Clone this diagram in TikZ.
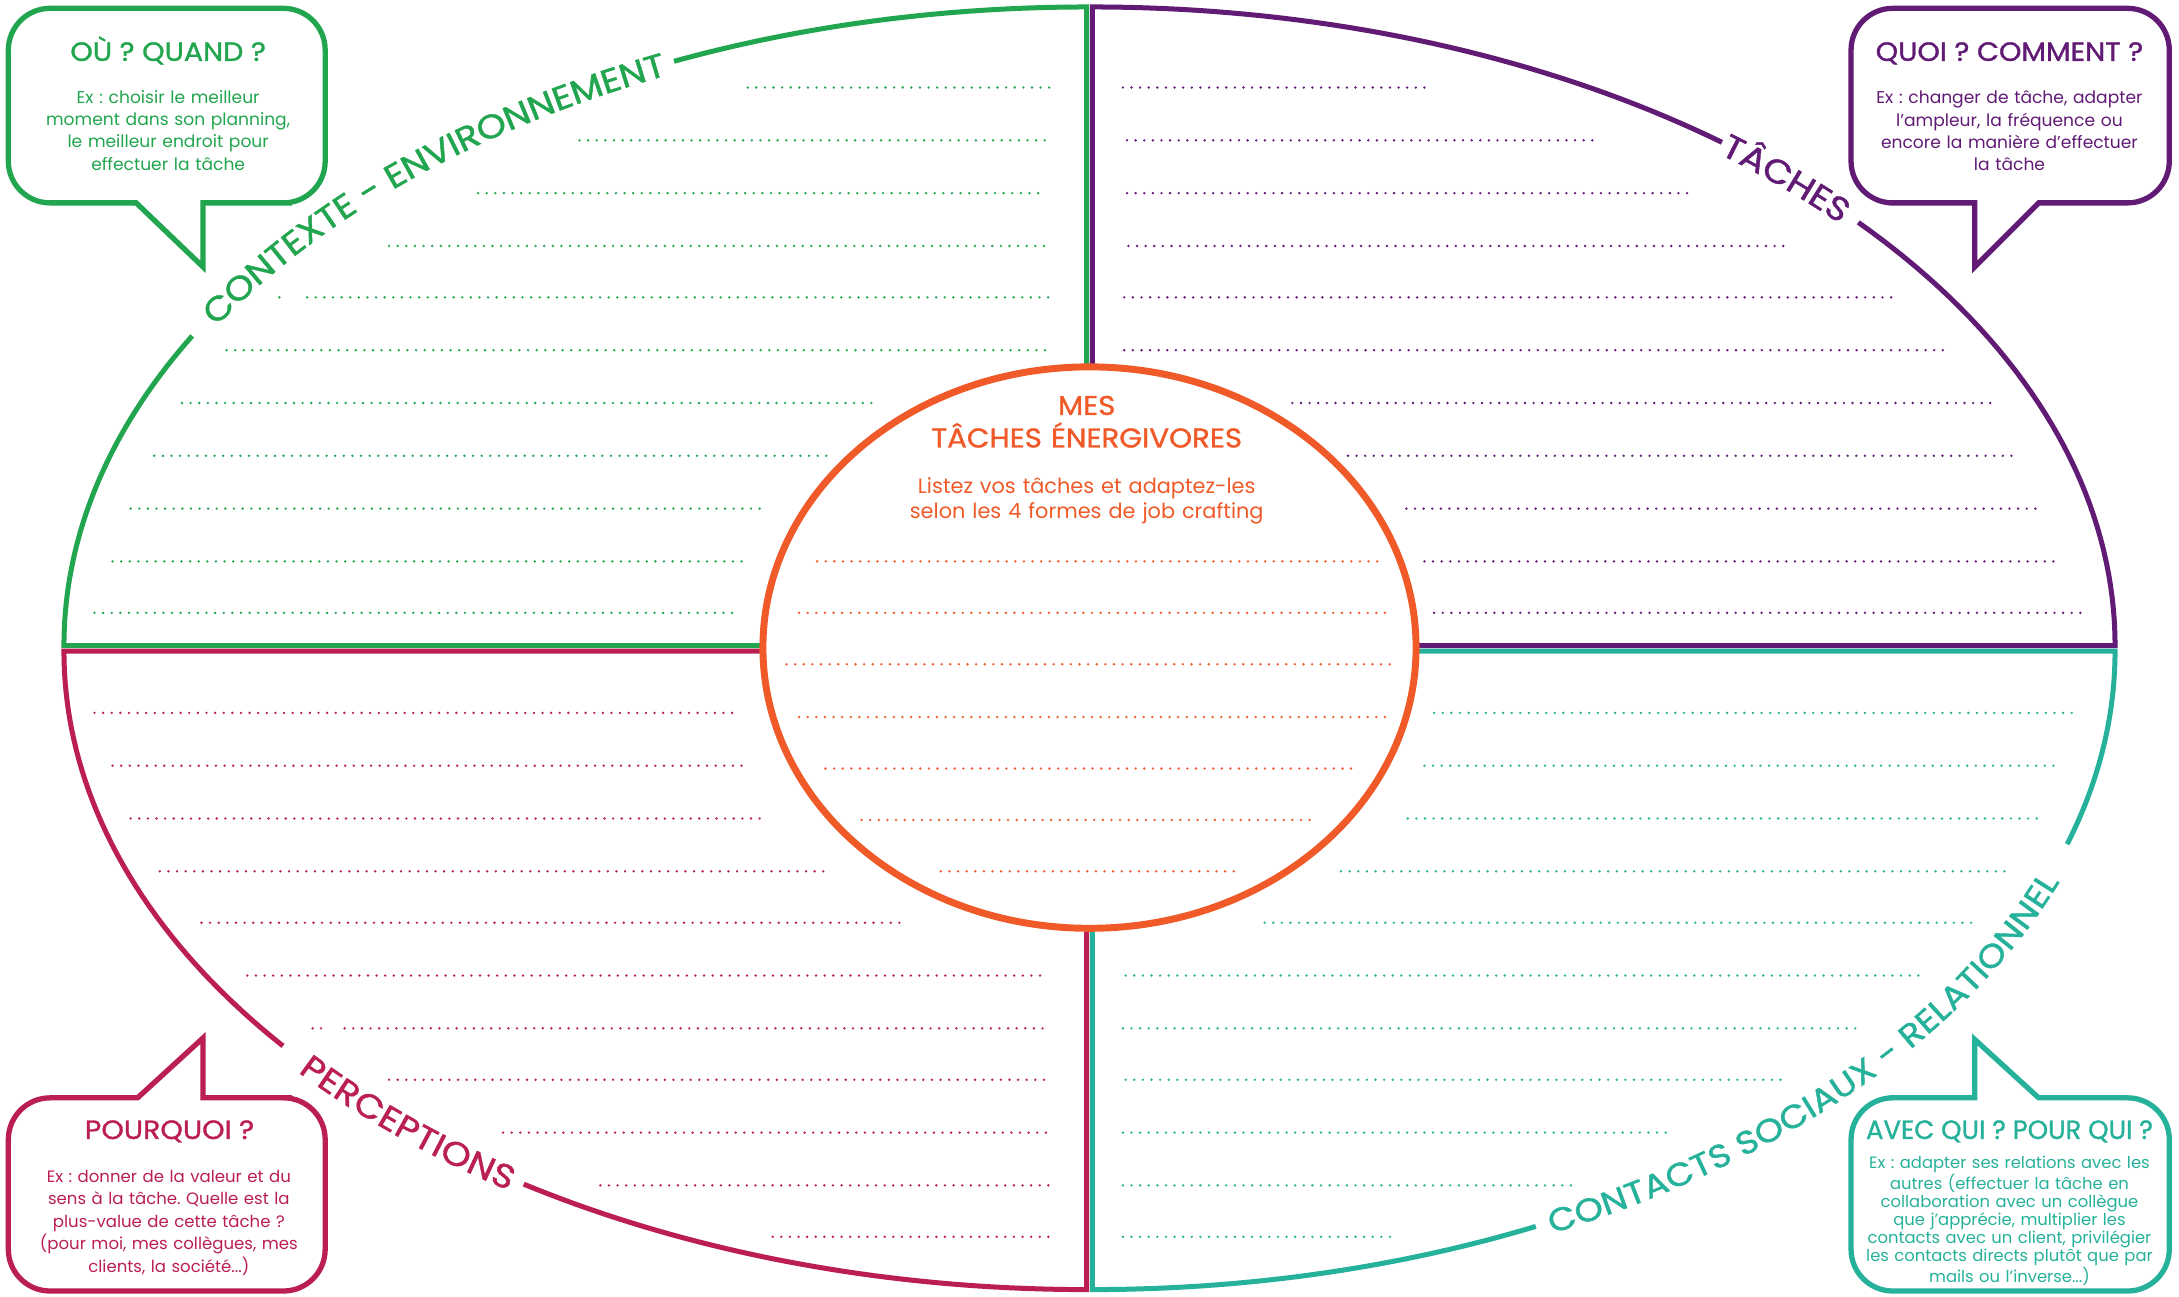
\documentclass[tikz,border=0pt]{standalone}
\usepackage{fontspec}
\setmainfont{Poppins}
\newfontfamily\headfont{Poppins}[FakeBold=1.2,FakeStretch=1.08]
\newfontfamily\headnarrow{Poppins}[FakeBold=1.2,FakeStretch=0.98]
\newfontfamily\labfont{Poppins}[FakeBold=1.3,FakeStretch=1.12]
\frenchspacing
\usetikzlibrary{decorations.text,shapes.geometric}
\definecolor{cgreen}{HTML}{22A54F}
\definecolor{cpurple}{HTML}{611B75}
\definecolor{ccrimson}{HTML}{BA1E52}
\definecolor{cteal}{HTML}{26B19A}
\definecolor{corange}{HTML}{F05A28}
\tikzset{
  quadline/.style={line width=3.6pt, line join=miter},
  dotline/.style={line width=1.9pt, line cap=round, dash pattern=on 0pt off 6.2pt, #1},
  bubble/.style={line width=3.8pt, line join=miter, fill=white, draw=#1},
  headtext/.style={font=\headfont\fontsize{19}{19}\selectfont, inner sep=0pt, anchor=base},
  bodytext/.style={font=\fontsize{12.3}{16}\selectfont, inner sep=0pt, anchor=base, text width=230pt, align=center},
  arclabel/.style n args={3}{decorate, decoration={text along path, text align=center, raise=-0.84pt, text color=#1, text={|\labfont\fontsize{#3}{#3}\selectfont|#2}}},
}
\begin{document}
\begin{tikzpicture}[x=1pt,y=-1pt]
\useasboundingbox (0,0) rectangle (1568,933);
\fill[white] (0,0) rectangle (1568,933);

% quadrants
\draw[quadline, cgreen] plot[domain=113.8:90,samples=40] ({782+736*cos(\x)},{464.5-459.5*sin(\x)}) -- (782,464.5) -- (46,464.5) -- plot[domain=180:151,samples=40] ({782+736*cos(\x)},{464.5-459.5*sin(\x)});
\draw[quadline, cpurple] plot[domain=41.5:0,samples=40] ({786+736*cos(\x)},{464.5-459.5*sin(\x)}) -- (786,464.5) -- plot[domain=90:52,samples=40] ({786+736*cos(\x)},{464.5-459.5*sin(\x)});
\draw[quadline, ccrimson] plot[domain=236.6:270,samples=40] ({782+736*cos(\x)},{468.5-459.5*sin(\x)}) -- (782,468.5) -- (46,468.5) -- plot[domain=180:218.2,samples=40] ({782+736*cos(\x)},{468.5-459.5*sin(\x)});
\draw[quadline, cteal] plot[domain=342.4:360,samples=40] ({786+736*cos(\x)},{468.5-459.5*sin(\x)}) -- (786,468.5) -- (786,928) -- plot[domain=270:295.7,samples=40] ({786+736*cos(\x)},{468.5-459.5*sin(\x)});

% arc labels (drawn at 1/10 scale, enlarged by the canvas transform)
\begin{scope}[x=0.1pt, y=-0.1pt, transform canvas={shift={(782pt,-464.5pt)}, scale=10}]
\path[arclabel={cgreen}{CONTEXTE - ENVIRONNEMENT}{2.4}] plot[domain=155:110,samples=140] ({736*cos(\x)},{-459.5*sin(\x)});
\end{scope}
\begin{scope}[x=0.1pt, y=-0.1pt, transform canvas={shift={(786pt,-464.5pt)}, scale=10}]
\path[arclabel={cpurple}{TÂCHES}{2.4}] plot[domain=58:35.5,samples=90] ({736*cos(\x)},{-459.5*sin(\x)});
\end{scope}
\begin{scope}[x=0.1pt, y=-0.1pt, transform canvas={shift={(782pt,-468.5pt)}, scale=10}]
\path[arclabel={ccrimson}{PERCEPTIONS}{2.4}] plot[domain=212:242.8,samples=90] ({736*cos(\x)},{-459.5*sin(\x)});
\end{scope}
\begin{scope}[x=0.1pt, y=-0.1pt, transform canvas={shift={(786pt,-468.5pt)}, scale=10}]
\path[arclabel={cteal}{CONTACTS SOCIAUX - RELATIONNEL}{2.32}] plot[domain=290.5:348,samples=140] ({736*cos(\x)},{-459.5*sin(\x)});
\end{scope}

% centre
\node[draw=corange, line width=5pt, fill=white, ellipse, minimum width=470pt, minimum height=404pt, inner sep=0pt] (core) at (784,466) {};
\node[font=\headfont\fontsize{19.5}{23.4}\selectfont, text=corange, inner sep=0pt, anchor=base, text width=300pt, align=center] (coreh) at (782,298.6) {MES\\TÂCHES ÉNERGIVORES};
\node[font=\fontsize{15}{18}\selectfont, text=corange, inner sep=0pt, anchor=base, text width=300pt, align=center] (coreb) at (782,355) {Listez vos tâches et adaptez-les\\selon les 4 formes de job crafting};

% dotted lines
\foreach \yy/\xa/\xb in {63/538/755, 101/417/753, 139/344/753, 177/280/753, 214/221/755, 252/163/755, 290/131/630, 328/111/595, 366/94/552, 404/81/538, 441/68/532}
  \draw[dotline=cgreen] (\xa,\yy) -- (\xb,\yy);
\fill[cgreen] (201,214) circle (0.95pt);
\foreach \yy/\xa/\xb in {63/808/1027, 101/811/1147, 139/811/1220, 177/812/1285, 214/809/1364, 252/809/1403, 290/930/1433, 328/970/1452, 366/1012/1470, 404/1025/1483, 441/1032/1497}
  \draw[dotline=cpurple] (\xa,\yy) -- (\xb,\yy);
\foreach \yy/\xa/\xb in {513/1032/1495, 551/1025/1483, 589/1013/1470, 627/965/1448, 664/910/1420, 702/810/1385, 740/808/1338, 777/810/1284, 815/808/1201, 853/808/1131, 890/808/1005}
  \draw[dotline=cteal] (\xa,\yy) -- (\xb,\yy);
\foreach \yy/\xa/\xb in {513/68/531, 551/81/538, 589/94/551, 627/115/598, 664/145/653, 702/178/752, 740/248/755, 777/280/753, 815/362/755, 853/432/755, 890/556/755}
  \draw[dotline=ccrimson] (\xa,\yy) -- (\xb,\yy);
\fill[ccrimson] (225,740) circle (0.95pt) (231,740) circle (0.95pt);
\foreach \yy/\xa/\xb in {404/588/993, 441/575/998, 478/566/1006, 516/575/998, 553/594/973, 590/620/943, 627/677/893}
  \draw[dotline=corange] (\xa,\yy) -- (\xb,\yy);

% callouts
\draw[bubble=cgreen] (146,192) -- (98,146) -- (70,146) [rounded corners=30pt] -- (6,146) -- (6,6) -- (234,6) -- (234,146) -- (180,146) [sharp corners] -- (146,146) -- cycle;
\draw[bubble=cpurple] (1421,192) -- (1467,146) -- (1500,146) [rounded corners=30pt] -- (1561,146) -- (1561,6) -- (1332,6) -- (1332,146) -- (1390,146) [sharp corners] -- (1421,146) -- cycle;
\draw[bubble=ccrimson] (146,747) -- (99,790) -- (70,790) [rounded corners=30pt] -- (6,790) -- (6,929) -- (234,929) -- (234,790) -- (180,790) [sharp corners] -- (146,790) -- cycle;
\draw[bubble=cteal] (1421,748) -- (1467,790) -- (1500,790) [rounded corners=30pt] -- (1561,790) -- (1561,929) -- (1332,929) -- (1332,790) -- (1390,790) [sharp corners] -- (1421,790) -- cycle;

\node[headtext, text=cgreen] (tlh) at (121,43.8) {OÙ ? QUAND ?};
\node[bodytext, text=cgreen] (tlb) at (121,74.5) {Ex : choisir le meilleur\\moment dans son planning,\\le meilleur endroit pour\\effectuer la tâche};
\node[headtext, text=cpurple] (trh) at (1446,43.8) {QUOI ? COMMENT ?};
\node[bodytext, text=cpurple] (trb) at (1446,74.8) {Ex : changer de tâche, adapter\\l’ampleur, la fréquence ou\\encore la manière d’effectuer\\la tâche};
\node[headtext, text=ccrimson] (blh) at (122,819.6) {POURQUOI ?};
\node[bodytext, text=ccrimson, font=\fontsize{11.9}{16.2}\selectfont] (blb) at (121.5,850.6) {Ex : donner de la valeur et du\\sens à la tâche. Quelle est la\\plus-value de cette tâche ?\\(pour moi, mes collègues, mes\\clients, la société...)};
\node[headtext, text=cteal, font=\headnarrow\fontsize{19}{19}\selectfont] (brh) at (1446,819.6) {AVEC QUI ? POUR QUI ?};
\node[bodytext, text=cteal, font=\fontsize{11.8}{12.9}\selectfont] (brb) at (1446,840.8) {Ex : adapter ses relations avec les\\autres (effectuer la tâche en\\collaboration avec un collègue\\que j’apprécie, multiplier les\\contacts avec un client, privilégier\\les contacts directs plutôt que par\\mails ou l’inverse...)};
\end{tikzpicture}
\end{document}
